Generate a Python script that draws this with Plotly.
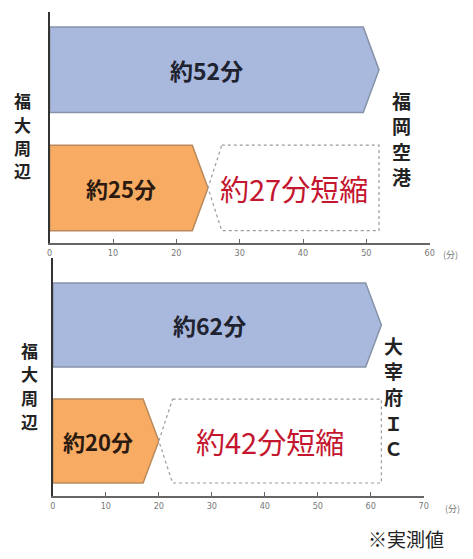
import plotly.graph_objects as go

# Travel time (minutes) from the Fukudai area, current route vs. new route
destinations = ["福岡空港", "大宰府ＩＣ"]
current_minutes = [52, 62]
new_minutes = [25, 20]
axis_max = [60, 70]
tick_values = [list(range(0, 61, 10)), list(range(0, 71, 10))]
origin_label = "福大周辺"
unit_label = "(分)"
note_label = "※実測値"

W, H = 473, 559
FONT = "Noto Sans CJK JP"
BLUE, BLUE_EDGE = "#a8b9dd", "#8692a8"
ORANGE, ORANGE_EDGE = "#f8ab62", "#b98a5c"
RED = "#c4162f"


def px(x):
    return x / W


def py(y):
    return 1 - y / H


# panel geometry (paper domains, y ranges)
panels = [
    dict(xdom=[px(47.5), px(434)], ydom=[py(243), py(12)], yrange=[-0.466, 1.49]),
    dict(xdom=[px(50.7), px(428)], ydom=[py(496), py(258)], yrange=[-0.474, 1.578]),
]
HALF = 0.362
ARROW_PX = 16
NOTCH_PX = 14

fig = go.Figure()
annotations = []


def label(x, y, text, size, color="#222", xanchor="center"):
    return dict(x=x, y=y, xref="paper", yref="paper", text=text, showarrow=False,
                xanchor=xanchor, yanchor="middle", align="center", borderpad=0,
                font=dict(family=FONT, size=size, color=color))


def vertical(text, x, y_first, step, size):
    # one annotation per character, stacked top to bottom
    return [label(px(x), py(y_first + k * step), f"<b>{ch}</b>", size)
            for k, ch in enumerate(text)]


for i, (dest, cur, new, xmax, ticks, p) in enumerate(
    zip(destinations, current_minutes, new_minutes, axis_max, tick_values, panels)
):
    xa = "x" if i == 0 else f"x{i + 1}"
    ya = "y" if i == 0 else f"y{i + 1}"
    width_px = (p["xdom"][1] - p["xdom"][0]) * W
    per_px = xmax / width_px
    arrow = ARROW_PX * per_px
    notch = NOTCH_PX * per_px

    def arrow_shape(value, row):
        xs = [0, value - arrow, value, value - arrow, 0, 0]
        ys = [row + HALF, row + HALF, row, row - HALF, row - HALF, row + HALF]
        return xs, ys

    # current route (blue arrow)
    xs, ys = arrow_shape(cur, 1)
    fig.add_trace(go.Scatter(x=xs, y=ys, fill="toself", fillcolor=BLUE, mode="lines",
                             line=dict(color=BLUE_EDGE, width=1.5), xaxis=xa, yaxis=ya,
                             hoverinfo="skip", showlegend=False))
    # new route (orange arrow)
    xs, ys = arrow_shape(new, 0)
    fig.add_trace(go.Scatter(x=xs, y=ys, fill="toself", fillcolor=ORANGE, mode="lines",
                             line=dict(color=ORANGE_EDGE, width=1.5), xaxis=xa, yaxis=ya,
                             hoverinfo="skip", showlegend=False))
    # saved time (dotted box with notch)
    bx = [new + notch, cur, cur, new + notch, new, new + notch]
    by = [HALF, HALF, -HALF, -HALF, 0, HALF]
    fig.add_trace(go.Scatter(x=bx, y=by, fill="toself", fillcolor="white", mode="lines",
                             line=dict(color="#9a9a9a", width=1.2, dash="dot"),
                             xaxis=xa, yaxis=ya, hoverinfo="skip", showlegend=False))

    annotations += [
        dict(x=(cur - arrow) / 2, y=1, xref=xa, yref=ya, text=f"<b>約{cur}分</b>",
             showarrow=False, xanchor="center", yanchor="middle",
             font=dict(family=FONT, size=23, color="#1f2330")),
        dict(x=(new - arrow) / 2, y=0, xref=xa, yref=ya, text=f"<b>約{new}分</b>",
             showarrow=False, xanchor="center", yanchor="middle",
             font=dict(family=FONT, size=22, color="#2a1a10")),
        dict(x=(new + cur) / 2, y=0, xref=xa, yref=ya, text=f"約{cur - new}分短縮",
             showarrow=False, xanchor="center", yanchor="middle",
             font=dict(family=FONT, size=29, color=RED)),
    ]

    fig.update_layout({
        ("xaxis" if i == 0 else f"xaxis{i + 1}"): dict(
            domain=p["xdom"], range=[0, xmax], anchor=ya, tickvals=ticks,
            showline=True, linecolor="#666", linewidth=1.5, ticks="inside",
            ticklen=4, tickcolor="#666", showgrid=False, zeroline=False,
            tickfont=dict(family="DejaVu Sans Condensed", size=9, color="#777"),
            fixedrange=True),
        ("yaxis" if i == 0 else f"yaxis{i + 1}"): dict(
            domain=p["ydom"], range=p["yrange"], anchor=xa, showline=True,
            linecolor="#333", linewidth=2, showticklabels=False, ticks="",
            showgrid=False, zeroline=False, fixedrange=True),
    })

# vertical side labels, unit labels and footnote
annotations += vertical(origin_label, 20, 101, 23, 17)
annotations += vertical(destinations[0], 405, 100, 25.5, 19)
annotations += vertical(origin_label, 27, 350, 23.7, 17)
annotations += vertical(destinations[1], 397, 345, 25.7, 19)
annotations += [
    label(px(447), py(254), unit_label, 9, color="#777", xanchor="left"),
    label(px(449), py(508), unit_label, 9, color="#777", xanchor="left"),
    label(px(410), py(538), note_label, 19),
]

fig.update_layout(
    width=W, height=H, margin=dict(l=0, r=0, t=0, b=0),
    paper_bgcolor="white", plot_bgcolor="rgba(0,0,0,0)",
    annotations=annotations, showlegend=False,
)

fig.write_html("out.html", config={"displayModeBar": False})
